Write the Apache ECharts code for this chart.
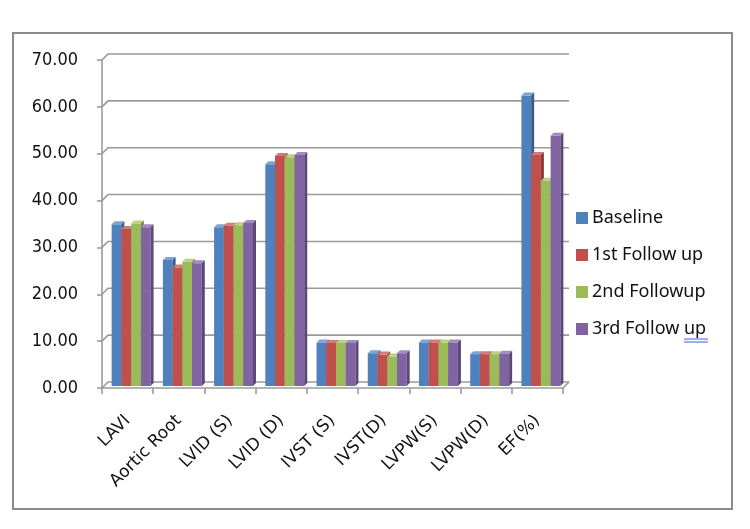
<!DOCTYPE html>
<html>
<head>
<meta charset="utf-8">
<script src="https://cdn.jsdelivr.net/npm/echarts@6/dist/echarts.min.js"></script>
<style>
  html, body { margin: 0; padding: 0; background: #fff; }
  #chart { width: 750px; height: 529px; }
</style>
</head>
<body>
<div id="chart"></div>
<script>
// data
const categories = ['LAVI', 'Aortic Root', 'LVID (S)', 'LVID (D)', 'IVST (S)', 'IVST(D)', 'LVPW(S)', 'LVPW(D)', 'EF(%)'];
const seriesNames = ['Baseline', '1st Follow up', '2nd Followup', '3rd Follow up'];
const baseline  = [34.5, 26.9, 33.9, 47.3, 9.3, 7.0, 9.3, 6.8, 62.0];
const followUp1 = [33.5, 25.3, 34.2, 49.1, 9.2, 6.7, 9.3, 6.8, 49.3];
const followUp2 = [34.7, 26.5, 34.3, 48.8, 9.2, 6.3, 9.3, 6.8, 43.8];
const followUp3 = [33.9, 26.2, 34.8, 49.3, 9.2, 7.0, 9.3, 6.9, 53.4];
const yTicks = [0, 10, 20, 30, 40, 50, 60, 70];

// front / top / side colours (office palette)
const faces = [
    ['#4F81BD', '#7FA3D3', '#385D8A'],
    ['#C0504D', '#D77A77', '#8C3836'],
    ['#9BBB59', '#B8D284', '#71893F'],
    ['#8064A2', '#A28BC0', '#5C4776']
];

const DEPTH = 6;   // back wall offset
const BAR_D = 3;   // bar bevel

const chart = echarts.init(document.getElementById('chart'));

// 3d-ish column
const barRender = (k) => (params, api) => {
    const idx = api.value(0);
    const v = api.value(1);
    const top = api.coord([idx, v]);
    const base = api.coord([idx, 0]);
    const cw = api.size([1, 0])[0];
    const bw = cw * 0.19;
    const x = top[0] - 2 * bw + k * bw + 1.5 + 2;
    const y = top[1] - 2;
    const yb = base[1] - 2;
    const c = faces[k];
    return {
        type: 'group',
        children: [
            { type: 'rect', shape: { x: x, y: y, width: bw, height: yb - y }, style: { fill: c[0] } },
            { type: 'polygon', shape: { points: [[x, y], [x + BAR_D, y - BAR_D], [x + bw + BAR_D, y - BAR_D], [x + bw, y]] }, style: { fill: c[1] } },
            { type: 'polygon', shape: { points: [[x + bw, y], [x + bw + BAR_D, y - BAR_D], [x + bw + BAR_D, yb - BAR_D], [x + bw, yb]] }, style: { fill: c[2] } }
        ]
    };
};

// back wall gridlines
const wallRender = (params, api) => {
    const v = api.value(1);
    const y = api.coord([0, v])[1];
    const x0 = params.coordSys.x;
    const x1 = x0 + params.coordSys.width;
    const children = [{
        type: 'polyline',
        shape: { points: [[x0, y], [x0 + DEPTH, y - DEPTH], [x1 + DEPTH, y - DEPTH]] },
        style: { stroke: '#9a9a9a', lineWidth: 1.6, fill: null }
    }];
    if (v === 0) {
        children.push({
            type: 'line',
            shape: { x1: x1, y1: y, x2: x1 + DEPTH, y2: y - DEPTH },
            style: { stroke: '#9a9a9a', lineWidth: 1.6 }
        });
    }
    return { type: 'group', children: children };
};

const values = [baseline, followUp1, followUp2, followUp3];

const series = [{
    type: 'custom',
    name: 'wall',
    renderItem: wallRender,
    data: yTicks.map(v => [0, v]),
    encode: { x: 0, y: 1 },
    silent: true,
    z: 1
}];
values.forEach((arr, k) => {
    series.push({
        type: 'custom',
        name: seriesNames[k],
        renderItem: barRender(k),
        itemStyle: { color: faces[k][0] },
        data: arr.map((v, i) => [i, v]),
        encode: { x: 0, y: 1 },
        z: 2 + k
    });
});

chart.setOption({
    animation: false,
    backgroundColor: '#fff',
    grid: { left: 102, right: 187, top: 60, bottom: 141 },
    legend: {
        data: seriesNames,
        orient: 'vertical',
        left: 571,
        top: 203,
        icon: 'rect',
        itemWidth: 12,
        itemHeight: 12,
        itemGap: 17,
        textStyle: { fontFamily: 'Noto Sans', fontSize: 18, color: '#111', lineHeight: 20, padding: [0, 0, 0, -1] }
    },
    xAxis: {
        type: 'category',
        data: categories,
        axisLine: { lineStyle: { color: '#9a9a9a', width: 1.6 } },
        axisTick: { show: true, length: 6, lineStyle: { color: '#9a9a9a', width: 1.6 } },
        axisLabel: {
            interval: 0,
            rotate: 45,
            margin: 30,
            fontFamily: 'DejaVu Sans',
            fontSize: 17,
            color: '#111'
        }
    },
    yAxis: {
        type: 'value',
        min: 0,
        max: 70,
        interval: 10,
        splitLine: { show: false },
        axisLine: { show: true, lineStyle: { color: '#9a9a9a', width: 1.6 } },
        axisTick: { show: true, length: 5, lineStyle: { color: '#9a9a9a', width: 1.6 } },
        axisLabel: {
            margin: 24,
            fontFamily: 'DejaVu Sans Condensed',
            fontSize: 18,
            color: '#111',
            formatter: v => v.toFixed(2)
        }
    },
    graphic: [
        { type: 'rect', shape: { x: 13, y: 33, width: 719, height: 476 }, style: { fill: null, stroke: '#8c8c8c', lineWidth: 2 }, z: 0 },
        // spell-check underline under "up"
        { type: 'line', shape: { x1: 684, y1: 339, x2: 708, y2: 339 }, style: { stroke: '#3b5fd9', lineWidth: 1 } },
        { type: 'line', shape: { x1: 684, y1: 342, x2: 708, y2: 342 }, style: { stroke: '#3b5fd9', lineWidth: 1 } }
    ],
    series: series
});
</script>
</body>
</html>
